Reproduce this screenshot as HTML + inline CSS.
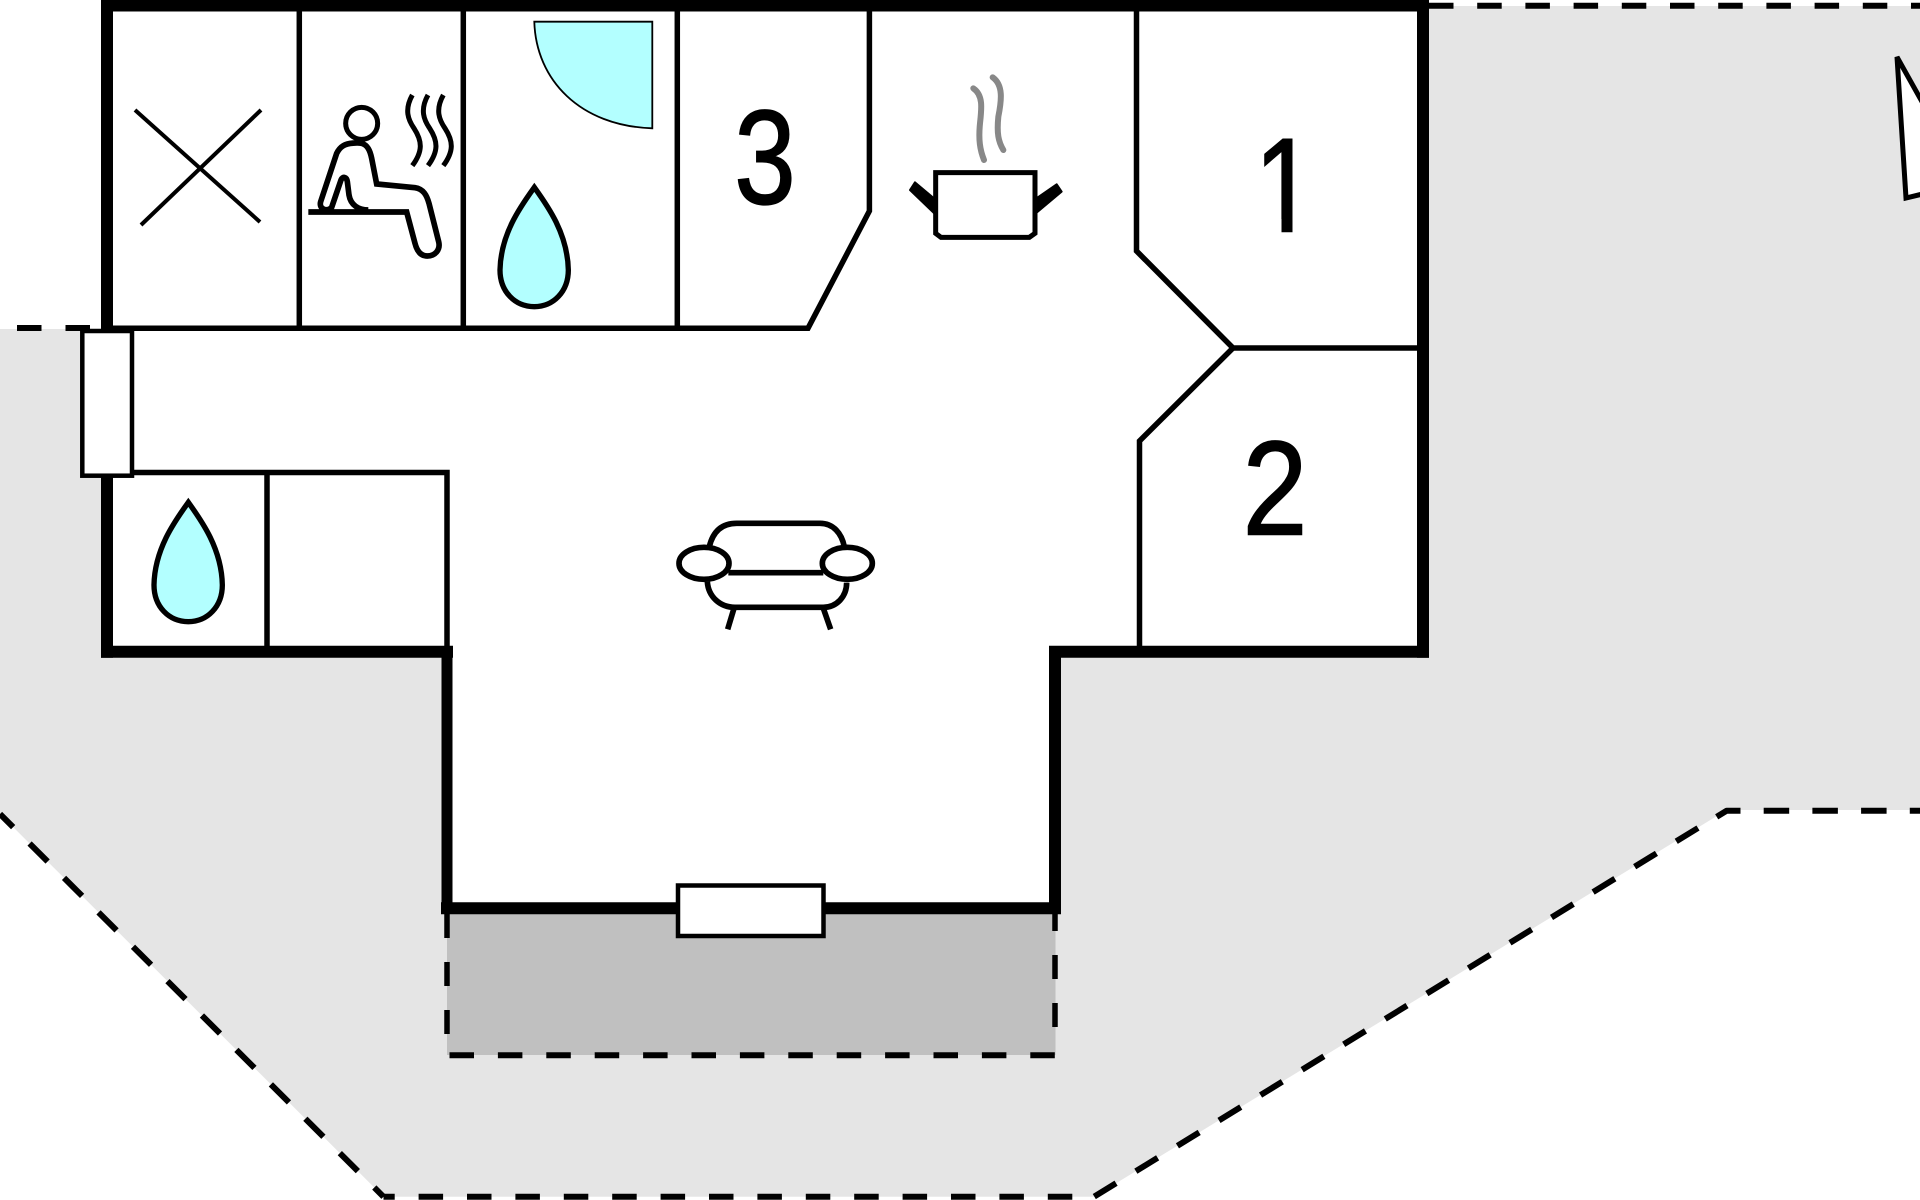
<!DOCTYPE html>
<html>
<head>
<meta charset="utf-8">
<title>Floor plan</title>
<style>
html,body{margin:0;padding:0;background:#fff;width:1920px;height:1200px;overflow:hidden}
svg{display:block;filter:blur(.35px)}
text{font-family:"Liberation Sans",sans-serif;font-size:134px;fill:#000;stroke:#000;stroke-width:1.600px;text-anchor:middle}
</style>
</head>
<body>
<svg width="1920" height="1200" viewBox="0 0 1920 1200" xmlns="http://www.w3.org/2000/svg">
<rect width="1920" height="1200" fill="#fff"/>
<!-- site -->
<polygon points="0,329 107,329 107,6 1920,6 1920,810 1726.700,810 1094,1196.700 383.500,1196.700 0,814" fill="#e5e5e5"/>
<!-- terrace -->
<rect x="447" y="908" width="608.500" height="147" fill="#c0c0c0"/>
<!-- house -->
<polygon points="107,0 1423,0 1423,652 1055,652 1055,908 447,908 447,652 107,652" fill="#fff"/>
<!-- site dashes -->
<g fill="none" stroke="#000" stroke-width="6">
<line x1="1429" y1="5.700" x2="1920" y2="5.700" stroke-dasharray="24.500 23.700"/>
<line x1="17" y1="328" x2="92" y2="328" stroke-dasharray="24.500 24"/>
<line x1="383.500" y1="1196.700" x2="1094" y2="1196.700" stroke-dasharray="24.500 23.900" stroke-dashoffset="13.300"/>
<line x1="383.500" y1="1196.700" x2="0" y2="814" stroke-dasharray="25.500 23.200" stroke-dashoffset="12.500"/>
<polyline points="1716.700,816.800 1726.700,810.700 1920,810.700" stroke-dasharray="25.500 23.200" stroke-linejoin="round"/>
<line x1="1698" y1="828" x2="1094" y2="1196.700" stroke-dasharray="25.500 23.200"/>
<line x1="449.500" y1="1055.300" x2="1060" y2="1055.300" stroke-dasharray="24.500 23.900"/>
<line x1="447" y1="914" x2="447" y2="1036" stroke-dasharray="24 24" stroke-width="5.500"/>
<line x1="1055" y1="907" x2="1055" y2="1030" stroke-dasharray="24 24" stroke-width="5.500"/>
</g>
<!-- thick walls -->
<g fill="none" stroke="#000" stroke-width="12">
<line x1="101" y1="5.500" x2="1429" y2="5.500"/>
<line x1="107" y1="0" x2="107" y2="330"/>
<line x1="107" y1="470" x2="107" y2="657.700"/>
<line x1="101" y1="651.700" x2="453" y2="651.700"/>
<line x1="447" y1="646" x2="447" y2="914" stroke-width="11"/>
<line x1="441" y1="908.300" x2="1061" y2="908.300"/>
<line x1="1055" y1="646" x2="1055" y2="914"/>
<line x1="1049" y1="651.700" x2="1429" y2="651.700"/>
<line x1="1423" y1="0" x2="1423" y2="657.700"/>
</g>
<!-- thin walls -->
<g fill="none" stroke="#000" stroke-width="5.500">
<polyline points="107,328.300 808,328.300 869.400,211 869.400,8"/>
<line x1="299.300" y1="8" x2="299.300" y2="328"/>
<line x1="463.300" y1="8" x2="463.300" y2="328"/>
<line x1="677.300" y1="8" x2="677.300" y2="328"/>
<polyline points="1136.500,8 1136.500,251 1233,348 1423,348"/>
<polyline points="1233,348 1139.500,441 1139.500,650"/>
<polyline points="130,472.500 447,472.500 447,650"/>
<line x1="267" y1="472" x2="267" y2="650"/>
</g>
<!-- windows -->
<rect x="82.300" y="331" width="49.700" height="144.700" fill="#fff" stroke="#000" stroke-width="4.500"/>
<rect x="678" y="885.500" width="145.500" height="50.500" fill="#fff" stroke="#000" stroke-width="4.500"/>
<!-- X -->
<g stroke="#000" stroke-width="4" fill="none">
<line x1="135" y1="110" x2="260" y2="222"/>
<line x1="261" y1="110" x2="141" y2="225"/>
</g>
<!-- sauna -->
<g transform="translate(280,0) scale(.33333)" fill="none" stroke="#000" stroke-width="17">
<circle cx="245" cy="370" r="48" stroke-width="15"/>
<path d="M85,636 L380,636 L405,730 C410,750 420,768 442,768 C465,768 482,750 476,725 L447,610 C440,585 430,567 405,563 L290,552 L275,475 C270,450 262,435 245,430 C235,428 205,428 190,437 C180,443 175,450 170,460 L122,605 C115,630 145,635 155,622 L183,540 C188,528 200,530 202,545 L207,585 C212,615 235,630 265,630"/>
<g stroke-width="15">
<path d="M397,285 C372,330 385,360 402,385 C428,425 428,455 397,497"/>
<path d="M444,285 C419,330 432,360 449,385 C475,425 475,455 444,497"/>
<path d="M490,285 C465,330 478,360 495,385 C521,425 521,455 490,497"/>
</g>
</g>
<!-- shower -->
<path d="M534.300,21.700 L652.300,21.700 L652.300,128.300 C580,126 536,80 534.300,21.700 Z" fill="#b3ffff" stroke="#000" stroke-width="1.800"/>
<!-- drops -->
<path transform="translate(280,0) scale(.33333)" d="M763,562 C725,615 662,700 660,810 C660,875 705,920 763,920 C820,920 865,875 865,810 C863,700 801,615 763,562 Z" fill="#b3ffff" stroke="#000" stroke-width="16"/>
<path transform="translate(-66,315) scale(.33333)" d="M763,562 C725,615 662,700 660,810 C660,875 705,920 763,920 C820,920 865,875 865,810 C863,700 801,615 763,562 Z" fill="#b3ffff" stroke="#000" stroke-width="16"/>
<!-- pot -->
<g transform="translate(880,50) scale(.33333)" fill="none">
<path d="M280,115 C310,135 305,175 300,220 C295,270 300,300 312,330" stroke="#888" stroke-width="18" stroke-linecap="round"/>
<path d="M338,82 C370,105 365,150 355,200 C350,250 355,275 370,300" stroke="#888" stroke-width="18" stroke-linecap="round"/>
<path d="M90,420 L105,397 L168,450 L168,495 Z" fill="#000" stroke="#000" stroke-width="6" stroke-linejoin="round"/>
<path d="M545,425 L530,403 L465,448 L465,492 Z" fill="#000" stroke="#000" stroke-width="6" stroke-linejoin="round"/>
<path d="M167,368 L465,368 L465,550 L448,562 L183,562 L167,550 Z" fill="#fff" stroke="#000" stroke-width="15"/>
</g>
<!-- sofa -->
<g transform="translate(660,500) scale(.33333)" fill="none" stroke="#000" stroke-width="17">
<path d="M148,140 C160,90 190,70 230,70 L480,70 C520,70 545,100 553,140"/>
<line x1="205" y1="218" x2="490" y2="218"/>
<path d="M142,245 C145,290 180,322 225,322 L490,322 C530,322 560,290 560,248"/>
<line x1="222" y1="325" x2="203" y2="388"/>
<line x1="490" y1="325" x2="512" y2="388"/>
<ellipse cx="132" cy="190" rx="75" ry="48"/>
<ellipse cx="562" cy="190" rx="75" ry="48"/>
</g>
<!-- numbers -->
<text transform="translate(765,203.500) scale(.825,1)">3</text>
<text transform="translate(1285,231.500) scale(.825,1)">1</text>
<text transform="translate(1275,534.500) scale(.87,1)">2</text>
<!-- hide the foot of the 1 -->
<rect x="1250" y="219" width="31.500" height="15" fill="#fff"/>
<rect x="1292.500" y="219" width="30" height="15" fill="#fff"/>
<!-- north arrow -->
<polygon points="1897,57 1906,198 1935,191 1935,125" fill="#fff" stroke="#000" stroke-width="5"/>
</svg>
</body>
</html>
